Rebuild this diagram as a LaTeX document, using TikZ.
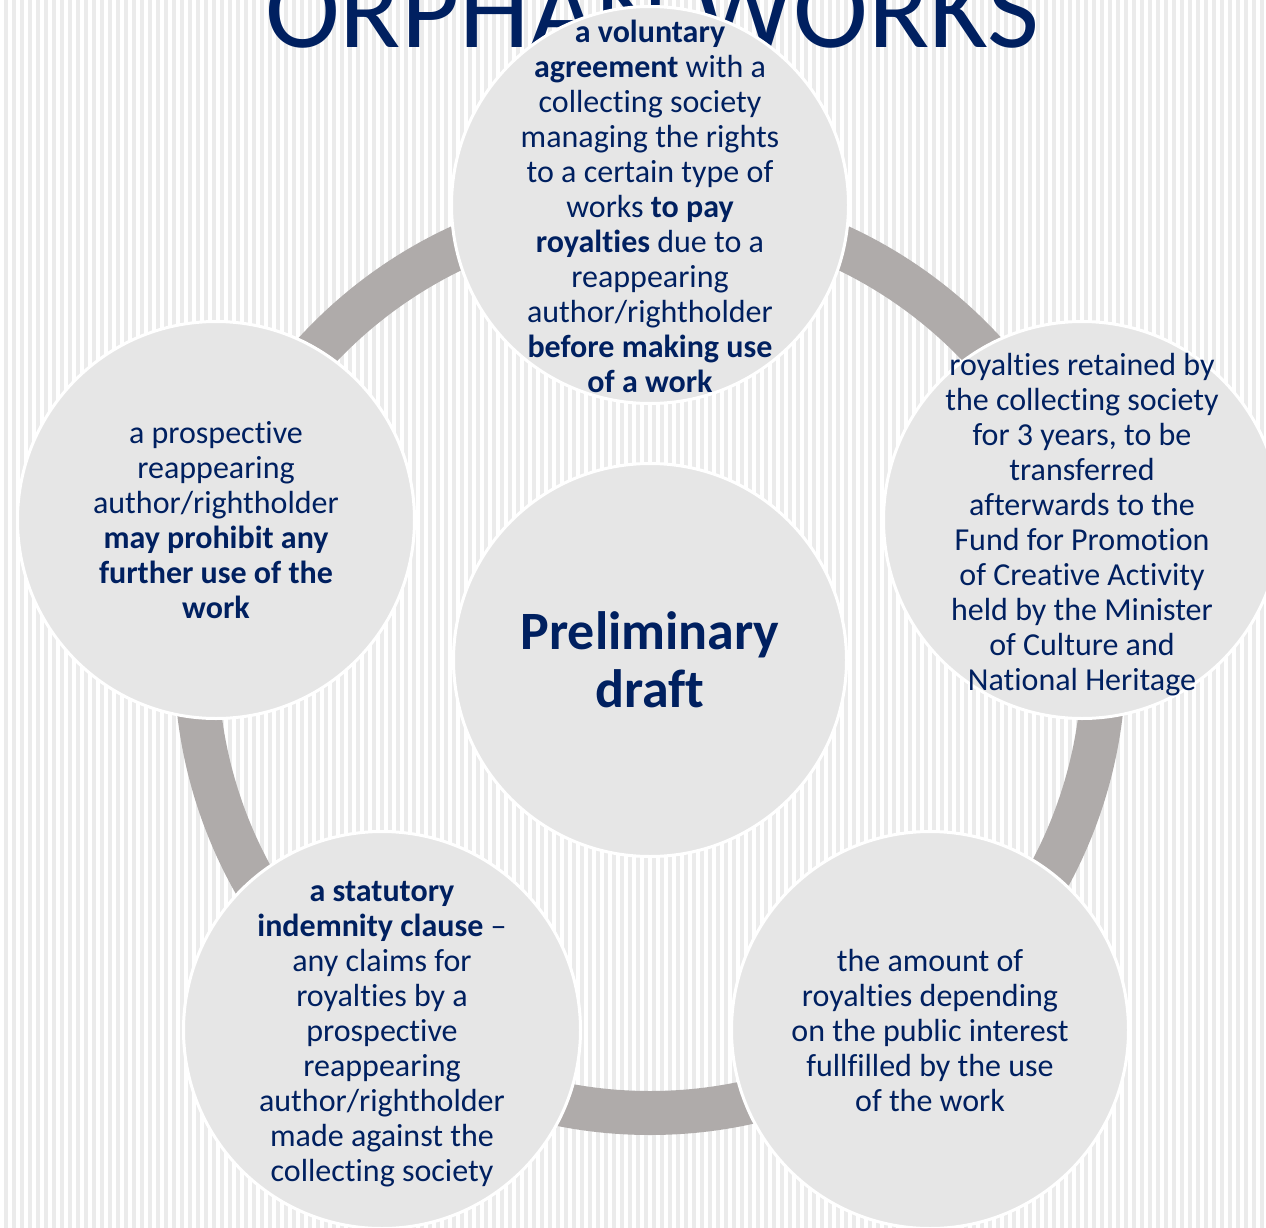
\documentclass[tikz,border=0pt]{standalone}
\usepackage{fontspec}
\setmainfont{Carlito}[Ligatures=NoCommon]
\definecolor{navy}{HTML}{002060}
\definecolor{stripegray}{HTML}{EBEBEB}
\definecolor{bubblegray}{HTML}{E6E6E6}
\definecolor{ringgray}{HTML}{AFABAA}
\tikzset{
  bubble/.style={circle, fill=bubblegray, draw=white, line width=3pt, minimum size=397pt, inner sep=0pt},
  txt/.style={align=center, text=navy, inner sep=0pt, font=\fontsize{32}{35}\selectfont},
  bigtxt/.style={align=center, text=navy, inner sep=0pt, font=\fontsize{54}{58}\selectfont\bfseries},
  titletxt/.style={text=navy, inner sep=0pt, font=\fontsize{113}{120}\selectfont},
  ring/.style={draw=ringgray, line width=44pt}
}
\begin{document}
\begin{tikzpicture}[x=1pt,y=-1pt]
\useasboundingbox (0,0) rectangle (1266,1228);
\clip (0,0) rectangle (1266,1228);
\fill[white] (0,0) rectangle (1266,1228);
\foreach \i in {0,...,157} \fill[stripegray] ({4+8*\i},0) rectangle ({8+8*\i},1228);
\node[titletxt, anchor=base] (title) at (652,48) {ORPHAN WORKS};
\coordinate (hub) at (650,659);
\draw[ring] (hub) circle[radius=454];
\node[bubble] (top) at (650,205) {};
\node[bubble] (right) at (1082,520) {};
\node[bubble] (left) at (216,520) {};
\node[bubble] (bl) at (382,1030) {};
\node[bubble] (br) at (930,1030) {};
\node[bubble, minimum size=393pt] (mid) at (650,660) {};
\node[txt] at ([yshift=-1pt]top) {\textbf{a voluntary}\\\textbf{agreement} with a\\collecting society\\managing the rights\\to a certain type of\\works \textbf{to pay}\\\textbf{royalties} due to a\\reappearing\\author/rightholder\\\textbf{before making use}\\\textbf{of a work}};
\node[txt] at ([yshift=-5pt]right) {royalties retained by\\the collecting society\\for 3 years, to be\\transferred\\afterwards to the\\Fund for Promotion\\of Creative Activity\\held by the Minister\\of Culture and\\National Heritage};
\node[txt] at (left) {a prospective\\reappearing\\author/rightholder\\\textbf{may prohibit any}\\\textbf{further use of the}\\\textbf{work}};
\node[txt] at ([yshift=-4pt]bl) {\textbf{a statutory}\\\textbf{indemnity clause} --\\any claims for\\royalties by a\\prospective\\reappearing\\author/rightholder\\made against the\\collecting society};
\node[txt] at (br) {the amount of\\royalties depending\\on the public interest\\fullfilled by the use\\of the work};
\node[bigtxt] at (mid) {Preliminary\\draft};
\end{tikzpicture}
\end{document}
